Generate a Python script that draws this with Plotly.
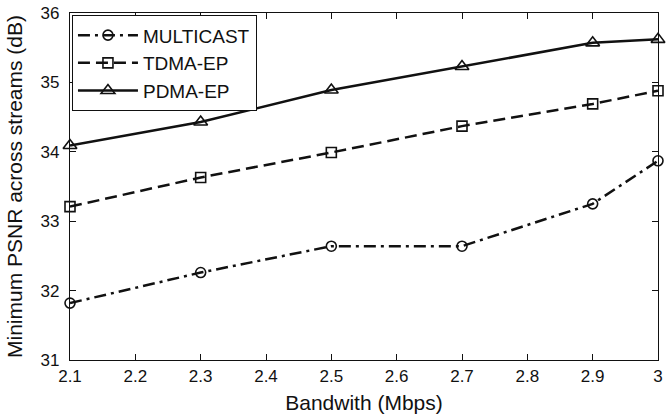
import plotly.graph_objects as go

bandwidth = [2.1, 2.3, 2.5, 2.7, 2.9, 3.0]
multicast = [31.82, 32.26, 32.64, 32.64, 33.25, 33.87]
tdma_ep = [33.21, 33.63, 33.99, 34.37, 34.69, 34.88]
pdma_ep = [34.09, 34.43, 34.89, 35.23, 35.57, 35.62]

x_ticks = [2.1, 2.2, 2.3, 2.4, 2.5, 2.6, 2.7, 2.8, 2.9, 3.0]
x_ticklabels = ["2.1", "2.2", "2.3", "2.4", "2.5", "2.6", "2.7", "2.8", "2.9", "3"]
y_ticks = [31, 32, 33, 34, 35, 36]

FONT = "Liberation Sans, Arial, sans-serif"
INK = "#111111"

fig = go.Figure()
series = [
    ("MULTICAST", multicast, "12px,5px,3px,5px", "circle-open", 10),
    ("TDMA-EP", tdma_ep, "12px,6px", "square-open", 10),
    ("PDMA-EP", pdma_ep, "solid", "triangle-up-open", 12),
]
for name, vals, dash, sym, msize in series:
    fig.add_trace(go.Scatter(
        x=bandwidth, y=vals, name=name, mode="lines+markers",
        line=dict(color=INK, width=2.5, dash=dash),
        marker=dict(symbol=sym, size=msize, color=INK, line=dict(width=1.6, color=INK)),
        cliponaxis=False,
    ))

axis_common = dict(
    showline=True, linecolor=INK, linewidth=1.3, mirror="ticks",
    ticks="inside", ticklen=6, tickcolor=INK, tickwidth=1.2,
    showgrid=False, zeroline=False, ticklabeloverflow="allow",
    tickfont=dict(family=FONT, size=17, color=INK),
)
fig.update_xaxes(range=[2.1, 3.0], tickvals=x_ticks, ticktext=x_ticklabels,
                 title=dict(text="Bandwith (Mbps)", standoff=10,
                            font=dict(family=FONT, size=21, color=INK)),
                 **axis_common)
fig.update_yaxes(range=[31, 36], tickvals=y_ticks, ticklabelstandoff=6,
                 title=dict(text="Minimum PSNR across streams (dB)", standoff=12,
                            font=dict(family=FONT, size=21, color=INK)),
                 **axis_common)

fig.update_layout(
    width=667, height=419,
    margin=dict(l=70, r=4, t=13, b=59),
    paper_bgcolor="white", plot_bgcolor="white",
    showlegend=True,
    legend=dict(x=0.003, y=0.994, xanchor="left", yanchor="top",
                bgcolor="white", bordercolor=INK, borderwidth=1.2,
                font=dict(family=FONT, size=19, color=INK),
                itemwidth=60),
)

fig.write_html("out.html", config={"displayModeBar": False},
               post_script="document.body.style.margin='0';document.body.style.overflow='hidden';")
